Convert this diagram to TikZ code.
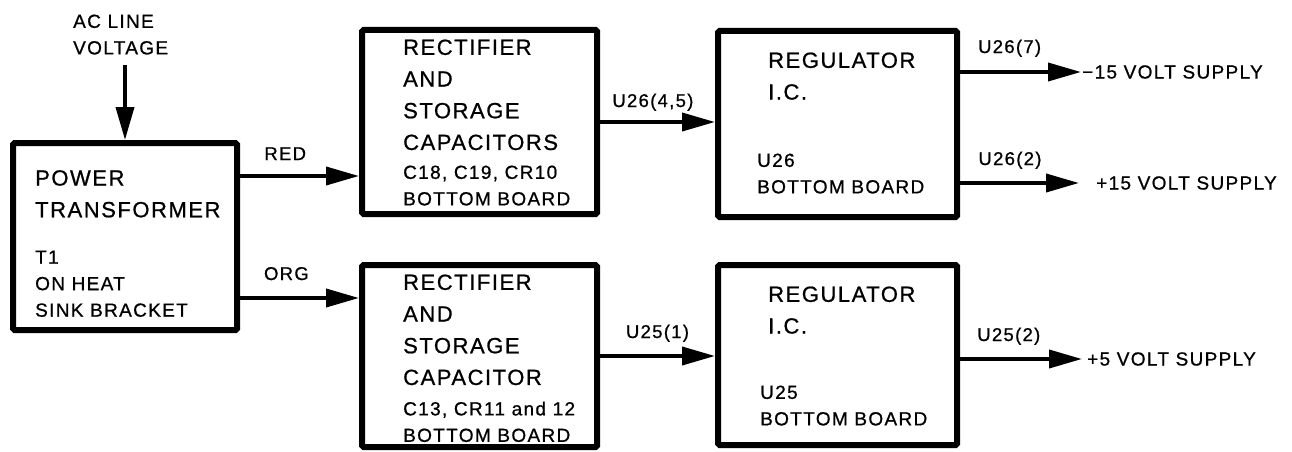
\documentclass[tikz,border=0pt]{standalone}
\usepackage{fontspec}
\setmainfont{Liberation Sans}[LetterSpace=7, FakeBold=0.8]
\usetikzlibrary{arrows.meta, positioning}

\begin{document}
\begin{tikzpicture}[x=1pt, y=-1pt,
    >={Triangle[length=33pt, width=18pt]},
    blockbox/.style={draw, line width=6pt, rounded corners=1.5pt, inner sep=0pt},
    bigtxt/.style={anchor=north west, inner sep=0pt, align=left,
                   font=\fontsize{22}{31.7}\selectfont},
    smalltxt/.style={anchor=north west, inner sep=0pt, align=left,
                     font=\fontsize{19}{26.5}\selectfont},
    wire/.style={line width=3.8pt, ->},
    lbl/.style={anchor=base, inner sep=0pt, font=\fontsize{18.5}{20}\selectfont},
    supply/.style={inner sep=0pt, font=\fontsize{19}{20}\selectfont}]

  \useasboundingbox (0,0) rectangle (1292,452);

  %% blocks
  \node[blockbox, minimum width=224pt, minimum height=187pt] (pt)   at (125,236.5) {};
  \node[blockbox, minimum width=235pt, minimum height=184pt] (rect1) at (479.5,122) {};
  \node[blockbox, minimum width=235pt, minimum height=182pt] (rect2) at (479.5,356) {};
  \node[blockbox, minimum width=239pt, minimum height=186pt] (reg1)  at (837.5,124) {};
  \node[blockbox, minimum width=239pt, minimum height=180pt] (reg2)  at (837.5,355) {};

  %% texts in the blocks
  \node[bigtxt]   (pttop) at (35,170)   {POWER\\TRANSFORMER};
  \node[smalltxt] (ptbot) at (35,250.4) {T1\\ON HEAT\\SINK BRACKET};
  \node[bigtxt]   (r1top) at (403,39.3) {RECTIFIER\\AND\\STORAGE\\CAPACITORS};
  \node[smalltxt] (r1bot) at (403,165.4) {C18, C19, CR10\\BOTTOM BOARD};
  \node[bigtxt]   (r2top) at (403,274.3) {RECTIFIER\\AND\\STORAGE\\CAPACITOR};
  \node[smalltxt] (r2bot) at (403,401.4) {C13, CR11 and 12\\BOTTOM BOARD};
  \node[bigtxt]   (g1top) at (768,52.3)  {REGULATOR\\I.C.};
  \node[smalltxt] (g1bot) at (757,153.4) {U26\\BOTTOM BOARD};
  \node[bigtxt]   (g2top) at (768,286.3) {REGULATOR\\I.C.};
  \node[smalltxt] (g2bot) at (760,385.4) {U25\\BOTTOM BOARD};

  %% input
  \node[smalltxt] (actxt) at (73,14.4) {AC LINE\\VOLTAGE};
  \coordinate (acin) at (125,65);
  \draw[wire] (acin) -- (pt.north);

  %% transformer to rectifiers
  \coordinate (red) at ([yshift=60.5pt]pt.east);
  \coordinate (org) at ([yshift=-61.5pt]pt.east);
  \draw[wire] (red) -- node[lbl, pos=0.38, yshift=16pt] {RED} (red -| rect1.west);
  \draw[wire] (org) -- node[lbl, pos=0.39, yshift=18pt] {ORG} (org -| rect2.west);

  %% rectifiers to regulators
  \draw[wire] (rect1.east) -- node[lbl, pos=0.46, yshift=15pt] {U26(4,5)} (rect1.east -| reg1.west);
  \draw[wire] (rect2.east) -- node[lbl, pos=0.50, yshift=18pt] {U25(1)} (rect2.east -| reg2.west);

  %% outputs
  \coordinate (tipa) at (1081,72);
  \coordinate (tipb) at (1079,183);
  \coordinate (tipc) at (1082,359);
  \node[supply, right=1pt of tipa]  (supa) {−15 VOLT SUPPLY};
  \node[supply, right=17pt of tipb] (supb) {+15 VOLT SUPPLY};
  \node[supply, right=5pt of tipc]  (supc) {+5 VOLT SUPPLY};

  \draw[wire] (reg1.east |- tipa) -- node[lbl, pos=0.41, yshift=19pt] {U26(7)} (tipa);
  \draw[wire] (reg1.east |- tipb) -- node[lbl, pos=0.42, yshift=18pt] {U26(2)} (tipb);
  \draw[wire] (reg2.east |- tipc) -- node[lbl, pos=0.40, yshift=18pt] {U25(2)} (tipc);

\end{tikzpicture}
\end{document}
